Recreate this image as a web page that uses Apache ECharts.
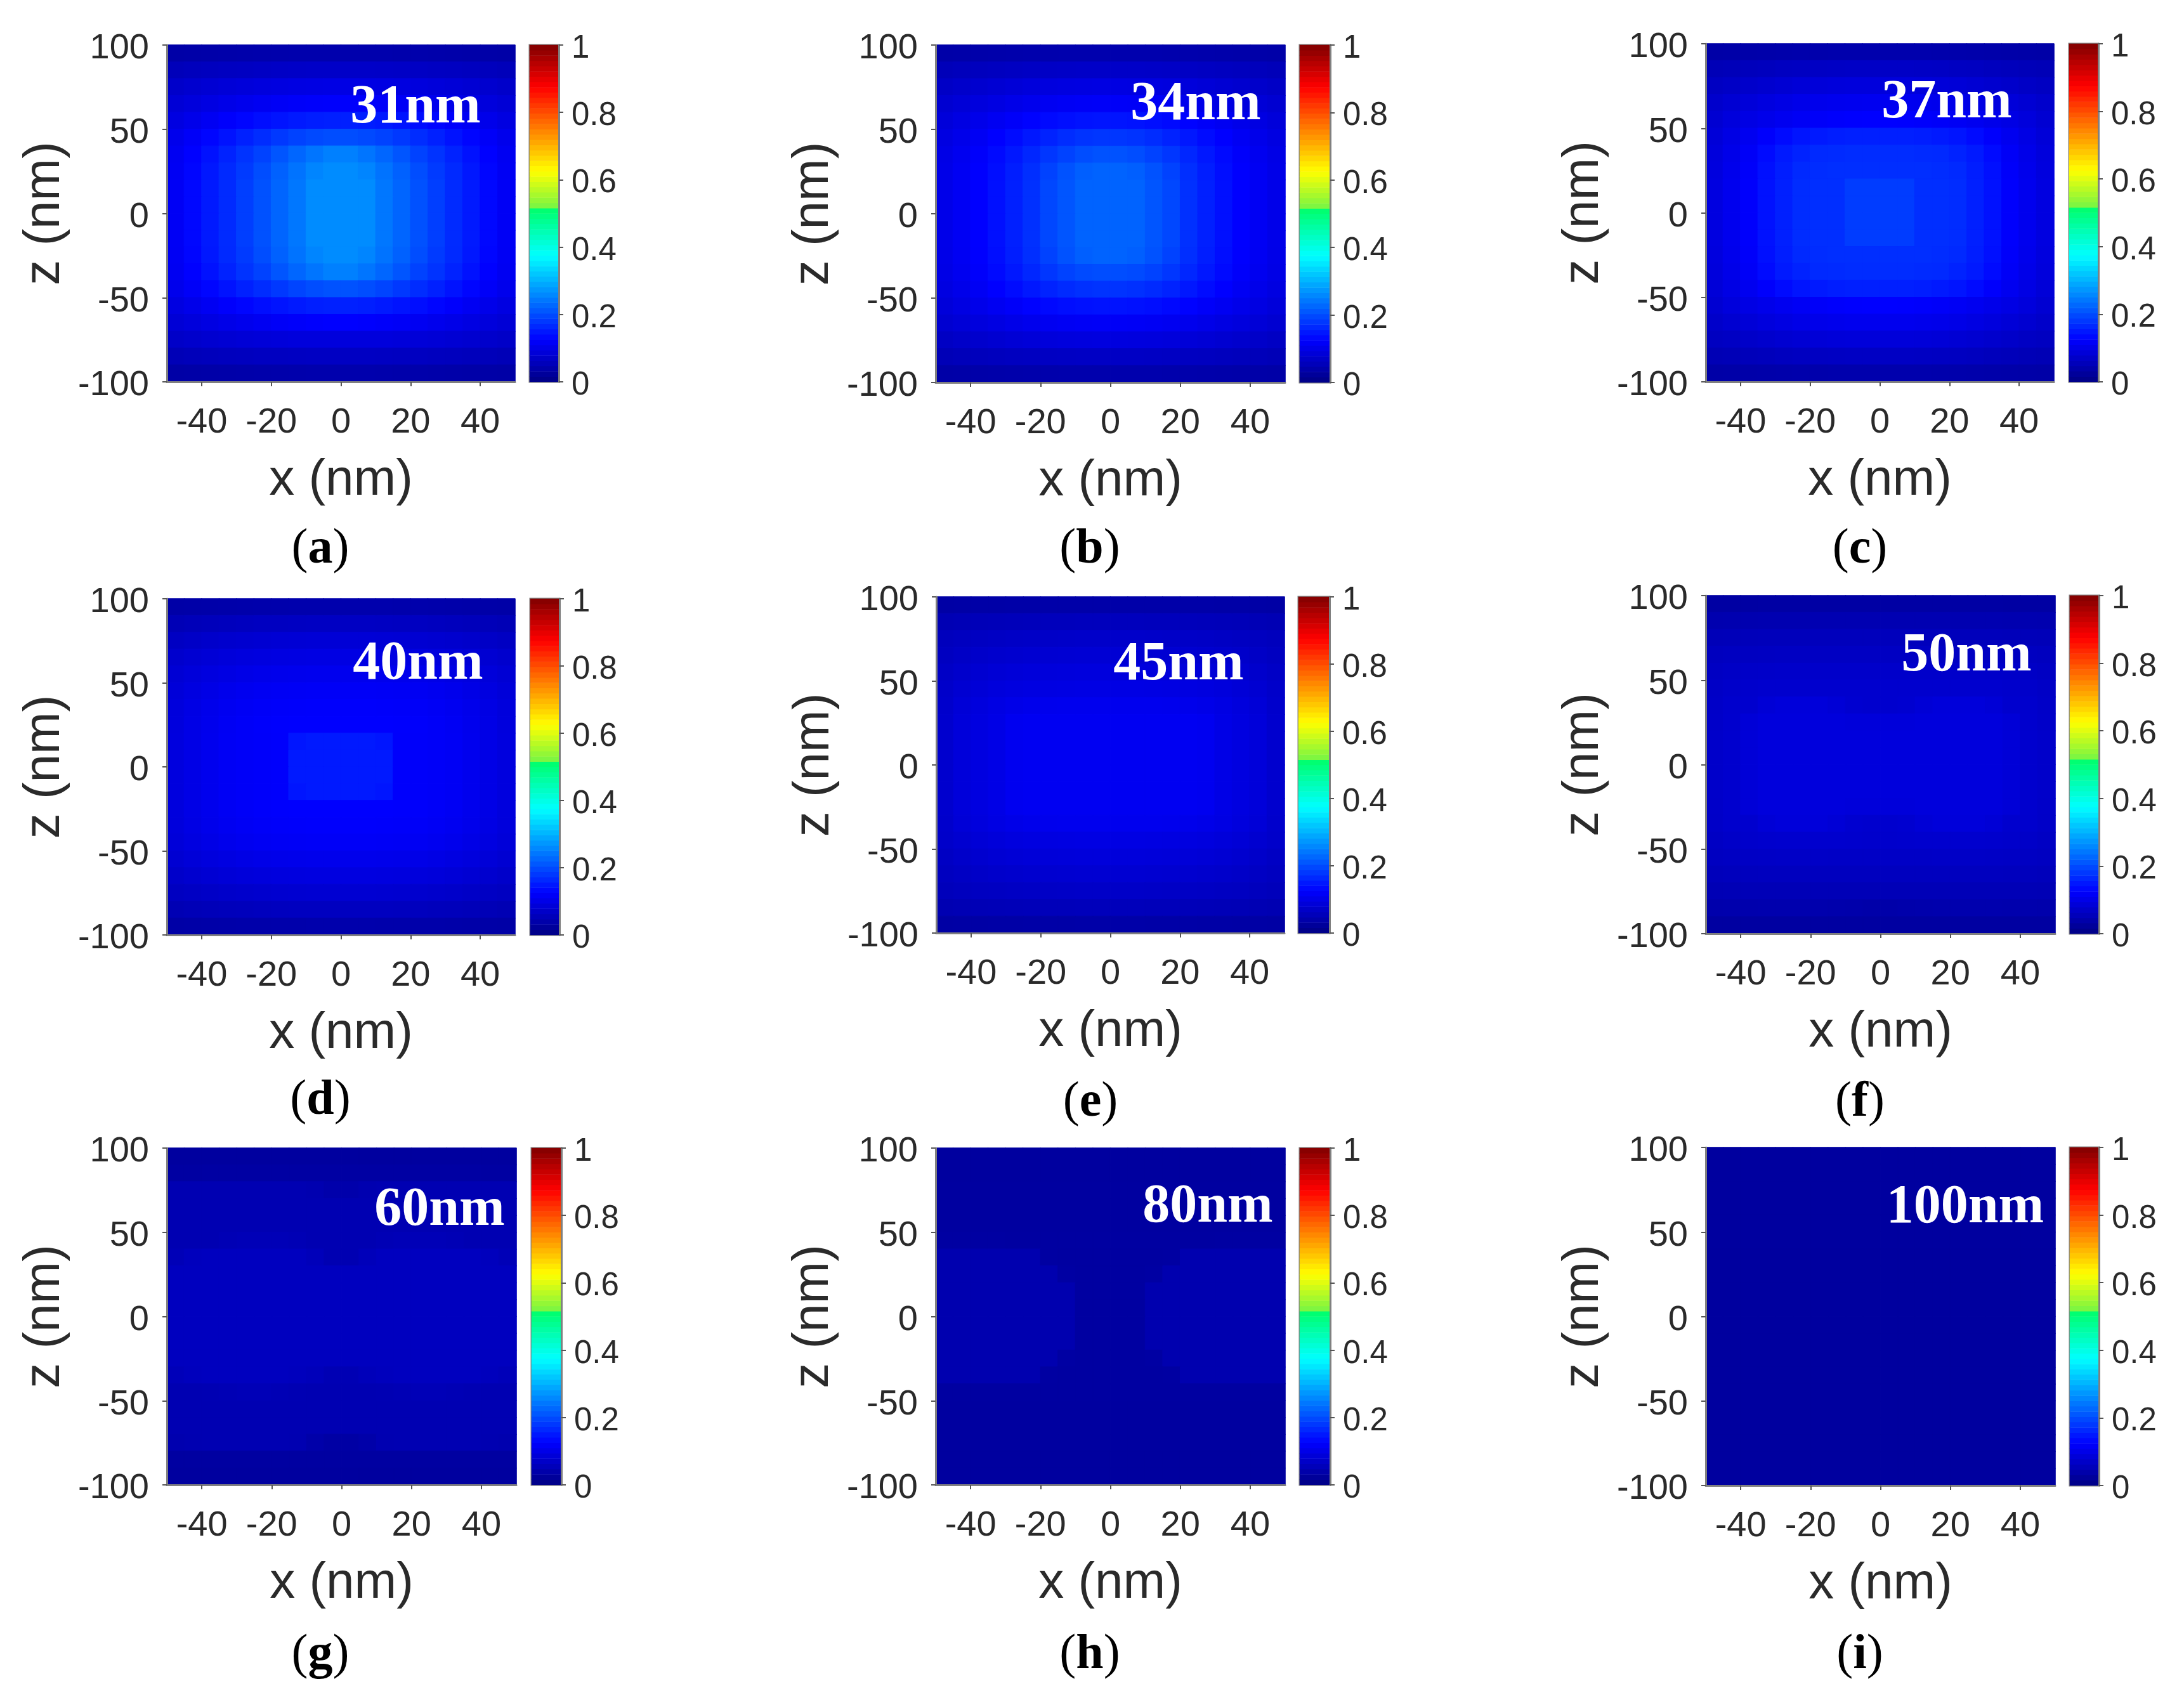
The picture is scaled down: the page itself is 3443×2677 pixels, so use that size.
<!DOCTYPE html>
<html><head><meta charset="utf-8">
<style>html,body{margin:0;padding:0;background:#fff}#c{width:3443px;height:2677px}</style>
<script src="https://cdn.jsdelivr.net/npm/echarts@6/dist/echarts.min.js"></script>
</head><body><div id="c"></div>
<script>
// ---- DATA: field intensity, in thousandths, rows top (z=95) to bottom (z=-95) ----
const xCells=[-47.5,-42.5,-37.5,-32.5,-27.5,-22.5,-17.5,-12.5,-7.5,-2.5,2.5,7.5,12.5,17.5,22.5,27.5,32.5,37.5,42.5,47.5];
const zCells=[95,85,75,65,55,45,35,25,15,5,-5,-15,-25,-35,-45,-55,-65,-75,-85,-95];
const xTicks=[-40,-20,0,20,40];
const colorbarLevels=[0.008,0.023,0.039,0.055,0.070,0.086,0.102,0.117,0.133,0.148,0.164,0.180,0.195,0.211,0.227,0.242,0.258,0.273,0.289,0.305,0.320,0.336,0.352,0.367,0.383,0.398,0.414,0.430,0.445,0.461,0.477,0.492,0.508,0.523,0.539,0.555,0.570,0.586,0.602,0.617,0.633,0.648,0.664,0.680,0.695,0.711,0.727,0.742,0.758,0.773,0.789,0.805,0.820,0.836,0.852,0.867,0.883,0.898,0.914,0.930,0.945,0.961,0.977,0.992];
const field31nm=[
[36,37,38,39,40,41,41,42,42,42,42,42,42,41,41,40,39,38,37,36],
[55,58,60,62,64,66,68,69,70,70,70,70,69,68,66,64,62,60,58,55],
[72,77,81,85,88,91,94,96,97,98,98,97,96,94,91,88,85,81,77,72],
[84,90,96,102,107,112,116,119,121,122,122,121,119,116,112,107,102,96,90,84],
[95,104,113,122,130,138,144,150,153,155,155,153,150,144,138,130,122,113,104,95],
[106,118,130,143,156,168,180,190,197,200,200,197,190,180,168,156,143,130,118,106],
[112,126,142,158,175,190,208,225,240,250,250,240,225,208,190,175,158,142,126,112],
[114,130,148,165,182,200,220,238,255,262,262,255,238,220,200,182,165,148,130,114],
[115,132,150,166,186,204,224,242,262,262,262,262,242,224,204,186,166,150,132,115],
[115,132,150,166,186,204,224,242,262,262,262,262,242,224,204,186,166,150,132,115],
[115,132,150,166,186,204,224,242,262,262,262,262,242,224,204,186,166,150,132,115],
[115,132,150,166,186,204,224,242,262,262,262,262,242,224,204,186,166,150,132,115],
[114,130,148,165,182,200,220,238,255,262,262,255,238,220,200,182,165,148,130,114],
[112,126,142,158,175,190,208,225,240,250,250,240,225,208,190,175,158,142,126,112],
[106,118,130,143,156,168,180,192,200,205,205,200,192,180,168,156,143,130,118,106],
[95,104,113,122,130,138,144,150,154,156,156,154,150,144,138,130,122,113,104,95],
[84,90,96,102,107,112,117,120,123,125,125,123,120,117,112,107,102,96,90,84],
[70,74,78,81,84,86,88,90,90,90,90,90,90,88,86,84,81,78,74,70],
[52,55,57,59,60,62,63,64,65,65,65,65,64,63,62,60,59,57,55,52],
[35,36,37,38,39,40,40,41,42,42,42,42,41,40,40,39,38,37,36,35]];
const field34nm=[
[37,38,39,40,41,42,42,43,43,43,43,43,43,42,42,41,40,39,38,37],
[54,57,59,61,64,66,68,69,70,70,70,70,69,68,66,64,61,59,57,54],
[68,73,77,81,85,89,92,94,95,96,96,95,94,92,89,85,81,77,73,68],
[79,85,91,96,102,107,112,115,117,118,118,117,115,112,107,102,96,91,85,79],
[88,96,104,112,119,127,134,139,143,145,145,143,139,134,127,119,112,104,96,88],
[95,104,114,125,136,148,158,168,175,178,178,175,168,158,148,136,125,114,104,95],
[100,110,121,134,148,162,178,190,200,205,205,200,190,178,162,148,134,121,110,100],
[102,113,124,138,153,170,190,205,218,222,222,218,205,190,170,153,138,124,113,102],
[103,114,125,140,155,172,195,208,222,222,222,222,208,195,172,155,140,125,114,103],
[103,114,125,140,155,172,195,208,222,222,222,222,208,195,172,155,140,125,114,103],
[103,114,125,140,155,172,195,208,222,222,222,222,208,195,172,155,140,125,114,103],
[103,114,125,140,155,172,195,208,222,222,222,222,208,195,172,155,140,125,114,103],
[102,113,124,138,153,170,190,205,218,222,222,218,205,190,170,153,138,124,113,102],
[100,110,121,134,148,162,178,190,198,200,200,198,190,178,162,148,134,121,110,100],
[95,104,114,125,136,148,158,166,172,175,175,172,166,158,148,136,125,114,104,95],
[88,96,104,112,119,127,133,138,141,143,143,141,138,133,127,119,112,104,96,88],
[79,85,91,96,102,107,111,114,116,117,117,116,114,111,107,102,96,91,85,79],
[66,71,75,79,83,86,89,91,92,93,93,92,91,89,86,83,79,75,71,66],
[52,55,57,59,61,63,65,66,67,67,67,67,66,65,63,61,59,57,55,52],
[36,37,38,39,40,41,41,42,42,42,42,42,42,41,41,40,39,38,37,36]];
const field37nm=[
[36,37,38,39,40,41,41,42,42,42,42,42,42,41,41,40,39,38,37,36],
[52,54,57,59,62,64,66,67,68,68,68,68,67,66,64,62,59,57,54,52],
[64,68,73,77,81,85,87,89,90,90,90,90,89,87,85,81,77,73,68,64],
[74,81,87,93,98,103,106,108,109,110,110,109,108,106,103,98,93,87,81,74],
[80,90,98,104,110,115,119,122,124,125,125,124,122,119,115,110,104,98,90,80],
[86,98,110,122,135,145,150,153,155,155,155,155,153,150,145,135,122,110,98,86],
[90,103,117,135,150,158,165,166,168,168,168,168,166,165,158,150,135,117,103,90],
[92,106,120,140,153,165,168,170,170,170,170,170,170,168,165,153,140,120,106,92],
[94,108,122,142,155,168,170,170,184,184,184,184,170,170,168,155,142,122,108,94],
[94,108,122,142,155,168,170,170,184,184,184,184,170,170,168,155,142,122,108,94],
[94,108,122,142,155,168,170,170,184,184,184,184,170,170,168,155,142,122,108,94],
[94,108,122,142,155,168,170,170,184,184,184,184,170,170,168,155,142,122,108,94],
[92,106,120,140,153,165,168,170,170,170,170,170,170,168,165,153,140,120,106,92],
[90,103,117,135,150,158,165,166,168,168,168,168,166,165,158,150,135,117,103,90],
[86,98,110,122,135,145,150,153,155,155,155,155,153,150,145,135,122,110,98,86],
[80,90,98,104,110,115,119,122,124,125,125,124,122,119,115,110,104,98,90,80],
[72,79,85,91,96,101,104,106,108,108,108,108,106,104,101,96,91,85,79,72],
[62,66,71,75,79,82,85,87,88,88,88,88,87,85,82,79,75,71,66,62],
[50,52,55,57,60,62,64,65,66,66,66,66,65,64,62,60,57,55,52,50],
[36,37,38,39,40,41,41,42,42,42,42,42,42,41,41,40,39,38,37,36]];
const field40nm=[
[36,37,38,39,40,41,41,42,42,42,42,42,42,41,41,40,39,38,37,36],
[51,54,56,58,60,62,63,64,65,65,65,65,64,63,62,60,58,56,54,51],
[65,69,73,76,78,80,82,83,84,84,84,84,83,82,80,78,76,73,69,65],
[75,80,84,88,91,93,95,96,97,97,97,97,96,95,93,91,88,84,80,75],
[82,88,93,97,101,104,106,107,108,108,108,108,107,106,104,101,97,93,88,82],
[87,94,100,106,110,113,115,116,117,117,117,117,116,115,113,110,106,100,94,87],
[90,98,105,111,115,118,120,121,122,122,122,122,121,120,118,115,111,105,98,90],
[91,100,107,114,118,121,123,124,124,124,124,124,124,123,121,118,114,107,100,91],
[92,100,108,115,118,120,122,146,150,150,150,150,146,122,120,118,115,108,100,92],
[92,100,108,115,118,120,122,150,150,150,150,150,150,122,120,118,115,108,100,92],
[92,100,108,115,118,120,122,150,150,150,150,150,150,122,120,118,115,108,100,92],
[92,100,108,115,118,120,122,146,150,150,150,150,146,122,120,118,115,108,100,92],
[91,100,107,114,118,121,123,124,124,124,124,124,124,123,121,118,114,107,100,91],
[90,98,105,111,115,118,120,121,122,122,122,122,121,120,118,115,111,105,98,90],
[87,94,100,106,110,113,115,116,117,117,117,117,116,115,113,110,106,100,94,87],
[80,86,91,95,99,102,104,105,106,106,106,106,105,104,102,99,95,91,86,80],
[72,77,81,85,88,90,92,93,94,94,94,94,93,92,90,88,85,81,77,72],
[62,66,69,72,74,76,78,79,80,80,80,80,79,78,76,74,72,69,66,62],
[49,52,54,56,57,59,60,61,61,61,61,61,61,60,59,57,56,54,52,49],
[35,36,37,38,39,39,40,40,41,41,41,41,40,40,39,39,38,37,36,35]];
const field45nm=[
[34,35,36,36,37,37,38,38,38,38,38,38,38,38,37,37,36,36,35,34],
[49,51,53,54,55,56,57,57,58,58,58,58,57,57,56,55,54,53,51,49],
[58,61,64,66,68,69,70,71,72,72,72,72,71,70,69,68,66,64,61,58],
[63,68,72,75,77,79,80,81,82,82,82,82,81,80,79,77,75,72,68,63],
[68,74,79,83,86,88,89,90,91,91,91,91,90,89,88,86,83,79,74,68],
[72,80,85,90,93,95,96,97,98,98,98,98,97,96,95,93,90,85,80,72],
[74,85,91,97,102,105,107,108,108,108,108,108,108,107,105,102,97,91,85,74],
[76,88,94,100,110,112,112,112,112,112,112,112,112,112,112,110,100,94,88,76],
[76,88,94,100,110,112,112,112,112,112,112,112,112,112,112,110,100,94,88,76],
[76,88,94,100,110,112,112,112,112,112,112,112,112,112,112,110,100,94,88,76],
[76,88,94,100,110,112,112,112,112,112,112,112,112,112,112,110,100,94,88,76],
[76,88,94,100,110,112,112,112,112,112,112,112,112,112,112,110,100,94,88,76],
[76,88,94,100,110,112,112,112,112,112,112,112,112,112,112,110,100,94,88,76],
[74,85,91,97,102,105,107,108,108,108,108,108,108,107,105,102,97,91,85,74],
[72,78,84,88,92,94,95,96,97,97,97,97,96,95,94,92,88,84,78,72],
[66,72,77,81,84,86,87,88,89,89,89,89,88,87,86,84,81,77,72,66],
[61,66,70,73,75,77,78,79,80,80,80,80,79,78,77,75,73,70,66,61],
[56,59,62,64,66,67,68,69,70,70,70,70,69,68,67,66,64,62,59,56],
[47,49,51,52,53,54,55,55,56,56,56,56,55,55,54,53,52,51,49,47],
[33,34,34,35,35,36,36,36,37,37,37,37,36,36,36,35,35,34,34,33]];
const field50nm=[
[32,32,32,33,33,33,33,33,33,33,33,33,33,33,33,33,33,32,32,32],
[44,45,45,46,46,46,47,47,47,47,47,47,47,47,46,46,46,45,45,44],
[53,54,55,56,56,56,57,57,57,57,57,57,57,57,56,56,56,55,54,53],
[60,62,63,64,65,65,65,65,65,65,65,65,65,65,65,65,64,63,62,60],
[65,68,70,71,72,72,72,72,72,72,72,72,72,72,72,72,71,70,68,65],
[68,72,74,76,76,76,76,76,76,76,76,76,76,76,76,76,76,74,72,68],
[70,75,76,84,88,88,88,84,78,76,76,78,84,88,88,88,84,76,75,70],
[71,76,85,90,90,90,90,90,88,88,88,88,90,90,90,90,90,85,76,71],
[72,76,85,90,90,90,90,90,90,90,90,90,90,90,90,90,90,85,76,72],
[72,76,85,90,90,90,90,90,90,90,90,90,90,90,90,90,90,85,76,72],
[72,76,85,90,90,90,90,90,90,90,90,90,90,90,90,90,90,85,76,72],
[72,76,85,90,90,90,90,90,90,90,90,90,90,90,90,90,90,85,76,72],
[71,76,85,90,90,90,90,90,88,88,88,88,90,90,90,90,90,85,76,71],
[70,75,76,84,88,88,88,84,78,76,76,78,84,88,88,88,84,76,75,70],
[66,70,73,75,76,76,76,76,75,74,74,75,76,76,76,76,75,73,70,66],
[62,65,67,68,69,69,69,68,68,68,68,68,68,69,69,69,68,67,65,62],
[56,58,59,60,60,60,60,60,60,60,60,60,60,60,60,60,60,59,58,56],
[50,51,52,52,52,52,52,52,52,52,52,52,52,52,52,52,52,52,51,50],
[41,42,42,43,43,43,42,41,40,38,38,40,41,42,43,43,43,42,42,41],
[30,30,30,30,30,30,30,30,30,30,30,30,30,30,30,30,30,30,30,30]];
const field60nm=[
[28,28,28,28,28,28,28,28,28,28,28,28,28,28,28,28,28,28,28,28],
[31,31,32,32,32,32,32,32,32,32,32,32,32,32,32,32,32,32,31,31],
[47,47,47,47,47,47,47,47,45,40,40,45,47,47,47,47,47,47,47,47],
[47,47,47,47,47,47,47,47,47,47,47,47,47,47,47,47,47,47,47,47],
[47,47,47,47,47,47,47,47,47,47,47,47,47,47,47,47,47,47,47,47],
[47,47,47,50,52,52,52,50,47,47,47,47,50,52,52,52,50,47,47,47],
[52,58,60,60,60,60,60,60,55,47,47,55,60,60,60,60,60,60,58,52],
[60,60,60,60,60,60,60,60,60,60,60,60,60,60,60,60,60,60,60,60],
[60,60,60,60,60,60,60,60,60,60,60,60,60,60,60,60,60,60,60,60],
[60,60,60,60,60,60,60,60,60,60,60,60,60,60,60,60,60,60,60,60],
[60,60,60,60,60,60,60,60,60,60,60,60,60,60,60,60,60,60,60,60],
[60,60,60,60,60,60,60,60,60,60,60,60,60,60,60,60,60,60,60,60],
[60,60,60,60,60,60,60,60,60,60,60,60,60,60,60,60,60,60,60,60],
[54,58,60,60,60,60,60,58,55,49,49,55,58,60,60,60,60,60,58,54],
[47,47,48,50,52,52,50,48,47,47,47,47,48,50,52,52,50,48,47,47],
[47,47,47,47,47,47,47,47,47,47,47,47,47,47,47,47,47,47,47,47],
[47,47,47,47,47,47,47,47,47,47,47,47,47,47,47,47,47,47,47,47],
[44,46,47,47,47,47,47,46,38,33,33,38,46,47,47,47,47,47,46,44],
[30,30,30,30,30,30,30,30,30,30,30,30,30,30,30,30,30,30,30,30],
[28,28,28,28,28,28,28,28,28,28,28,28,28,28,28,28,28,28,28,28]];
const field80nm=[
[28,28,28,28,28,28,28,28,28,28,28,28,28,28,28,28,28,28,28,28],
[28,28,28,28,28,28,28,28,28,28,28,28,28,28,28,28,28,28,28,28],
[29,29,29,29,29,29,29,29,29,29,29,29,29,29,29,29,29,29,29,29],
[29,29,29,29,29,29,29,29,29,29,29,29,29,29,29,29,29,29,29,29],
[29,29,29,29,29,29,29,29,29,29,29,29,29,29,29,29,29,29,29,29],
[31,31,31,31,30,30,30,30,30,30,30,30,30,30,30,30,31,31,31,31],
[44,44,44,44,44,44,31,30,30,30,30,30,30,31,44,44,44,44,44,44],
[44,44,44,44,44,44,44,32,30,30,30,30,32,44,44,44,44,44,44,44],
[44,44,44,44,44,44,44,44,30,30,30,30,44,44,44,44,44,44,44,44],
[44,44,44,44,44,44,44,44,30,30,30,30,44,44,44,44,44,44,44,44],
[44,44,44,44,44,44,44,44,30,30,30,30,44,44,44,44,44,44,44,44],
[44,44,44,44,44,44,44,44,30,30,30,30,44,44,44,44,44,44,44,44],
[44,44,44,44,44,44,44,32,30,30,30,30,32,44,44,44,44,44,44,44],
[44,44,44,44,44,44,31,30,30,30,30,30,30,31,44,44,44,44,44,44],
[30,30,30,30,30,30,30,30,30,30,30,30,30,30,30,30,30,30,30,30],
[29,29,29,29,29,29,29,29,29,29,29,29,29,29,29,29,29,29,29,29],
[29,29,29,29,29,29,29,29,29,29,29,29,29,29,29,29,29,29,29,29],
[29,29,29,29,29,29,29,29,29,29,29,29,29,29,29,29,29,29,29,29],
[28,28,28,28,28,28,28,28,28,28,28,28,28,28,28,28,28,28,28,28],
[28,28,28,28,28,28,28,28,28,28,28,28,28,28,28,28,28,28,28,28]];
const field100nm=[
[28,28,28,28,28,28,28,28,28,28,28,28,28,28,28,28,28,28,28,28],
[28,28,28,28,28,28,28,28,28,28,28,28,28,28,28,28,28,28,28,28],
[28,28,28,28,28,28,28,28,28,28,28,28,28,28,28,28,28,28,28,28],
[28,28,28,28,28,28,28,28,28,28,28,28,28,28,28,28,28,28,28,28],
[28,28,28,28,28,28,28,28,28,28,28,28,28,28,28,28,28,28,28,28],
[28,28,28,28,28,28,28,28,28,28,28,28,28,28,28,28,28,28,28,28],
[28,28,28,28,28,28,28,28,28,28,28,28,28,28,28,28,28,28,28,28],
[28,28,28,28,28,28,28,28,28,28,28,28,28,28,28,28,28,28,28,28],
[28,28,28,28,28,28,28,28,28,28,28,28,28,28,28,28,28,28,28,28],
[28,28,28,28,28,28,28,28,28,28,28,28,28,28,28,28,28,28,28,28],
[28,28,28,28,28,28,28,28,28,28,28,28,28,28,28,28,28,28,28,28],
[28,28,28,28,28,28,28,28,28,28,28,28,28,28,28,28,28,28,28,28],
[28,28,28,28,28,28,28,28,28,28,28,28,28,28,28,28,28,28,28,28],
[28,28,28,28,28,28,28,28,28,28,28,28,28,28,28,28,28,28,28,28],
[28,28,28,28,28,28,28,28,28,28,28,28,28,28,28,28,28,28,28,28],
[28,28,28,28,28,28,28,28,28,28,28,28,28,28,28,28,28,28,28,28],
[28,28,28,28,28,28,28,28,28,28,28,28,28,28,28,28,28,28,28,28],
[28,28,28,28,28,28,28,28,28,28,28,28,28,28,28,28,28,28,28,28],
[28,28,28,28,28,28,28,28,28,28,28,28,28,28,28,28,28,28,28,28],
[28,28,28,28,28,28,28,28,28,28,28,28,28,28,28,28,28,28,28,28]];
const panelFields=[field31nm,field34nm,field37nm,field40nm,field45nm,field50nm,field60nm,field80nm,field100nm];
const panelLabels=['31nm','34nm','37nm','40nm','45nm','50nm','60nm','80nm','100nm'];
const panelLetters=['a','b','c','d','e','f','g','h','i'];

// ---- LAYOUT (pixels): plot rect, colorbar left/width, wavelength label centre, letter centre ----
const layout=[
 {p:[263,71,549,531],cb:[835,46],t:[655,171],l:[505,867]},
 {p:[1475,71,551,532],cb:[2049,48],t:[1885,166],l:[1718,867]},
 {p:[2689,69,549,533],cb:[3262,46],t:[3069,163],l:[2932,867]},
 {p:[263,944,549,530],cb:[836,46],t:[659,1048],l:[505,1736]},
 {p:[1476,941,549,530],cb:[2047,49],t:[1858,1049],l:[1719,1739]},
 {p:[2689,939,551,533],cb:[3263,46],t:[3100,1035],l:[2932,1739]},
 {p:[263,1810,551,531],cb:[838,47],t:[693,1909],l:[505,2610]},
 {p:[1475,1810,551,531],cb:[2049,48],t:[1904,1904],l:[1718,2610]},
 {p:[2689,1809,551,533],cb:[3263,46],t:[3098,1905],l:[2932,2610]}
];

// ---- STYLE ----
const SANS='"Liberation Sans",Arial,sans-serif', SERIF='"Liberation Serif","Times New Roman",serif';
const INK='#2a2a2a', LINE='#808080';
const jetStops=[[0,[0,0,131]],[0.125,[0,0,255]],[0.375,[0,255,255]],[0.51,[0,255,112]],[0.511,[112,245,72]],[0.625,[255,255,0]],[0.875,[255,0,0]],[1,[128,0,0]]];
function jetColor(t){
  for(let k=1;k<jetStops.length;k++){
    const [a,ca]=jetStops[k-1],[b,cb]=jetStops[k];
    if(t<=b){const f=(t-a)/(b-a);return 'rgb('+ca.map((c,j)=>Math.round(c+(cb[j]-c)*f)).join(',')+')';}
  }
  return 'rgb(128,0,0)';
}
const jetList=[];for(let k=0;k<=1000;k++)jetList.push(jetColor(k/1000));

const grid=[],xAxis=[],yAxis=[],series=[],title=[];
const axisLine={show:true,lineStyle:{color:LINE,width:3}};
const axisTick={show:true,length:7,inside:false,lineStyle:{color:'#555',width:2}};
const cell=v=>({value:v,itemStyle:{borderColor:jetColor(v[2]),borderWidth:1}});
const nudged=v=>'{v|'+v+'}';
layout.forEach((L,i)=>{
  const [px,py,pw,ph]=L.p;
  // main plot
  grid.push({left:px,top:py,width:pw,height:ph});
  const g=grid.length-1;
  xAxis.push({gridIndex:g,type:'category',show:false,position:'top',data:xCells});
  const xc=xAxis.length-1;
  xAxis.push({gridIndex:g,type:'value',position:'bottom',min:-50,max:50,z:5,splitLine:{show:false},
    axisLine,axisTick:{...axisTick,customValues:xTicks},
    axisLabel:{customValues:xTicks,margin:37,fontFamily:SANS,fontSize:56,color:INK},
    name:'x (nm)',nameLocation:'middle',nameGap:116,nameTextStyle:{fontFamily:SANS,fontSize:80,color:INK}});
  yAxis.push({gridIndex:g,type:'category',show:false,position:'right',inverse:true,data:zCells});
  const yc=yAxis.length-1;
  yAxis.push({gridIndex:g,type:'value',position:'left',min:-100,max:100,interval:50,z:5,splitLine:{show:false},
    axisLine,axisTick,
    axisLabel:{margin:28,formatter:nudged,rich:{v:{padding:[12,0,0,0],fontFamily:SANS,fontSize:56,color:INK}}},
    name:'z (nm)',nameLocation:'middle',nameGap:152,nameTextStyle:{fontFamily:SANS,fontSize:80,color:INK}});
  const data=[];
  panelFields[i].forEach((row,r)=>row.forEach((v,c)=>data.push(cell([c,r,v/1000]))));
  series.push({type:'heatmap',xAxisIndex:xc,yAxisIndex:yc,data,silent:true,animation:false,progressive:0,emphasis:{disabled:true}});
  // colorbar
  grid.push({left:L.cb[0],top:py,width:L.cb[1],height:ph,show:true,borderColor:LINE,borderWidth:3,backgroundColor:'transparent'});
  const gb=grid.length-1;
  xAxis.push({gridIndex:gb,type:'category',show:false,data:['cb']});
  const xb=xAxis.length-1;
  yAxis.push({gridIndex:gb,type:'category',show:false,position:'left',data:colorbarLevels});
  const ybc=yAxis.length-1;
  yAxis.push({gridIndex:gb,type:'value',position:'right',min:0,max:1,interval:0.2,z:5,splitLine:{show:false},
    axisLine,axisTick,
    axisLabel:{margin:20,formatter:nudged,rich:{v:{padding:[12,0,0,0],fontFamily:SANS,fontSize:51,color:INK}}}});
  series.push({type:'heatmap',xAxisIndex:xb,yAxisIndex:ybc,data:colorbarLevels.map((v,k)=>[0,k,v]),silent:true,animation:false,progressive:0,emphasis:{disabled:true}});
  // texts
  title.push({text:panelLabels[i],left:L.t[0],top:L.t[1],padding:0,textAlign:'center',textVerticalAlign:'middle',z:10,
    textStyle:{fontFamily:SERIF,fontWeight:'bold',fontSize:86,color:'#fff'}});
  title.push({text:'{p|(}{b|'+panelLetters[i]+'}{p|)}',left:L.l[0],top:L.l[1],padding:0,textAlign:'center',textVerticalAlign:'middle',
    textStyle:{fontWeight:'normal',rich:{p:{fontFamily:SERIF,fontWeight:'normal',fontSize:78,color:'#000'},b:{fontFamily:SERIF,fontWeight:'bold',fontSize:78,color:'#000'}}}});
});
const chart=echarts.init(document.getElementById('c'),null,{renderer:'canvas',width:3443,height:2677});
chart.setOption({animation:false,backgroundColor:'#fff',title,grid,xAxis,yAxis,series,tooltip:{show:false},
  visualMap:{show:false,type:'continuous',min:0,max:1,dimension:2,seriesIndex:series.map((s,i)=>i),inRange:{color:jetList}}});
</script></body></html>
